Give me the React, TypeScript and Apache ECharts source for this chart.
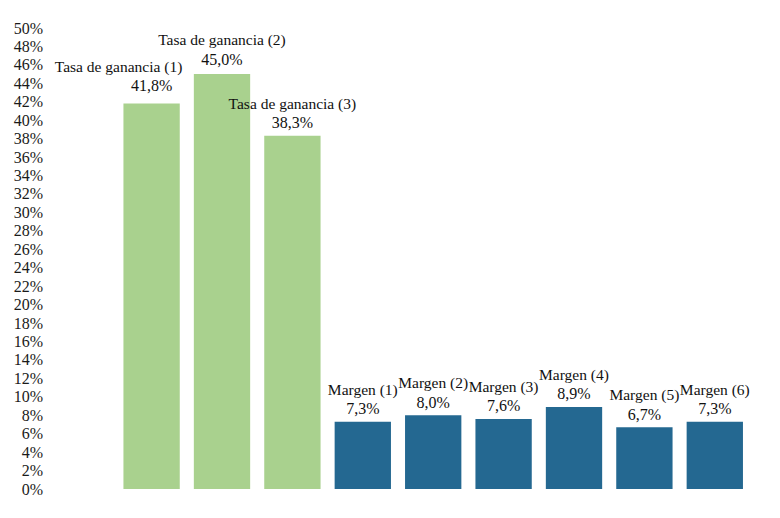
import React, { useEffect, useRef } from "react";
import * as echarts from "echarts";

const categories = [
  "",
  "Tasa de ganancia (1)",
  "Tasa de ganancia (2)",
  "Tasa de ganancia (3)",
  "Margen (1)",
  "Margen (2)",
  "Margen (3)",
  "Margen (4)",
  "Margen (5)",
  "Margen (6)",
];
const values: (number | null)[] = [null, 41.8, 45.0, 38.3, 7.3, 8.0, 7.6, 8.9, 6.7, 7.3];
const groups = ["", "tasa", "tasa", "tasa", "margen", "margen", "margen", "margen", "margen", "margen"];
const colors: Record<string, string> = { tasa: "#A9D18E", margen: "#246891", "": "#ffffff" };

const FONT = "'Liberation Serif', 'DejaVu Serif', serif";

export default function App() {
  const ref = useRef<HTMLDivElement>(null);
  useEffect(() => {
    document.body.style.margin = "0";
    const chart = echarts.init(ref.current!, null, { renderer: "svg" });
    chart.setOption({
      animation: false,
      grid: { left: 46, right: 30, top: 28, bottom: 29, containLabel: false },
      xAxis: {
        type: "category",
        data: categories,
        axisLine: { show: false },
        axisTick: { show: false },
        axisLabel: { show: false },
      },
      yAxis: {
        type: "value",
        min: 0,
        max: 50,
        interval: 2,
        splitLine: { show: false },
        axisLine: { show: false },
        axisTick: { show: false },
        axisLabel: {
          formatter: "{value}%",
          margin: 3,
          fontFamily: FONT,
          fontSize: 16,
          color: "#1a1a1a",
        },
      },
      series: [
        {
          type: "bar",
          barCategoryGap: "20%",
          data: values.map((v, i) => ({
            value: v,
            itemStyle: { color: colors[groups[i]] },
            label: i === 1 ? { offset: [0, -5] } : i === 2 ? { offset: [0, -2] } : {},
          })),
          label: {
            show: true,
            position: "top",
            distance: 3,
            formatter: (p: any) =>
              p.value == null
                ? ""
                : `{${p.dataIndex === 1 ? "n1" : "n"}|${categories[p.dataIndex]}}\n{v|${Number(p.value)
                    .toFixed(1)
                    .replace(".", ",")}%}`,
            rich: {
              n: { fontFamily: FONT, fontSize: 15.5, color: "#111", lineHeight: 19, align: "center" },
              n1: {
                fontFamily: FONT,
                fontSize: 15.5,
                color: "#111",
                lineHeight: 19,
                align: "center",
                padding: [0, 66, 0, 0],
              },
              v: { fontFamily: FONT, fontSize: 16, color: "#111", lineHeight: 20, align: "center" },
            },
          },
        },
      ],
    });
    return () => chart.dispose();
  }, []);
  return <div ref={ref} style={{ width: 780, height: 518 }} />;
}
